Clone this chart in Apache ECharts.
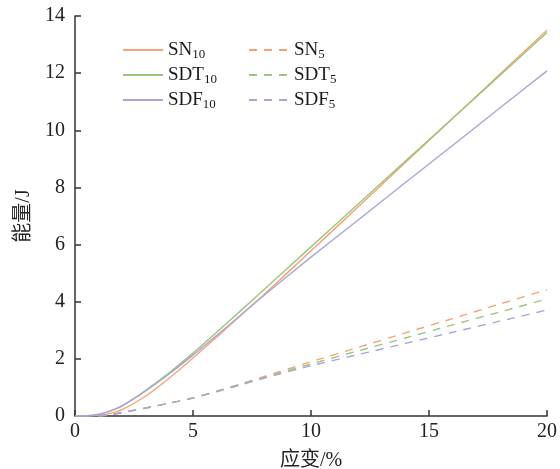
<!DOCTYPE html>
<html><head><meta charset="utf-8">
<script src="https://cdn.jsdelivr.net/npm/echarts@6/dist/echarts.min.js"></script>
<style>html,body{margin:0;padding:0;background:#fff}#c{width:560px;height:469px}</style>
</head><body><div id="c"></div>
<script>
const strain = [0, 0.5, 1, 1.5, 2, 3, 4, 5, 6, 7, 8, 10, 12, 14, 16, 18, 20];
const SN10  = [0, 0, 0.02, 0.09, 0.22, 0.7, 1.33, 2.03, 2.76, 3.5, 4.24, 5.78, 7.32, 8.87, 10.41, 11.96, 13.5];
const SDT10 = [0, 0, 0.05, 0.17, 0.35, 0.9, 1.52, 2.2, 2.93, 3.67, 4.42, 5.92, 7.42, 8.92, 10.42, 11.92, 13.42];
const SDF10 = [0, 0.01, 0.06, 0.18, 0.36, 0.88, 1.48, 2.13, 2.82, 3.52, 4.22, 5.56, 6.86, 8.17, 9.47, 10.78, 12.08];
const SN5   = [null, null, 0, 0.04, 0.12, 0.28, 0.45, 0.63, 0.87, 1.12, 1.38, 1.9, 2.4, 2.91, 3.41, 3.92, 4.42];
const SDT5  = [null, null, 0, 0.04, 0.12, 0.28, 0.45, 0.63, 0.86, 1.1, 1.35, 1.82, 2.28, 2.73, 3.19, 3.64, 4.1];
const SDF5  = [null, null, 0, 0.04, 0.12, 0.28, 0.45, 0.63, 0.85, 1.08, 1.32, 1.76, 2.15, 2.54, 2.93, 3.32, 3.71];
const names = ['SN10', 'SDT10', 'SDF10', 'SN5', 'SDT5', 'SDF5'];
const colors = ['#F4A474', '#9CC47C', '#A9A4DA'];

const serif = '"Liberation Serif", "Noto Sans CJK SC", serif';
const pair = a => strain.map((s, i) => [s, a[i]]);
const mk = (name, data, color, dashed) => ({
  name, type: 'line', data: pair(data), symbol: 'none', smooth: 0.2, connectNulls: false,
  lineStyle: { color, width: 1.4, type: dashed ? [8, 7] : 'solid' },
  itemStyle: { color }
});
const legendFmt = n => {
  const m = n.match(/^([A-Z]+)(\d+)$/);
  return '{b|' + m[1] + '}{s|' + m[2] + '}';
};
const legRich = {
  b: { fontFamily: serif, fontSize: 19, color: '#1a1a1a', lineHeight: 22 },
  s: { fontFamily: serif, fontSize: 13, color: '#1a1a1a', lineHeight: 22, verticalAlign: 'bottom', padding: [8, 0, 0, 0] }
};
const legBase = { orient: 'vertical', top: 35, itemWidth: 40, itemHeight: 10, itemGap: 4, formatter: legendFmt, textStyle: { rich: legRich }, itemStyle: { opacity: 0 } };

const chart = echarts.init(document.getElementById('c'));
chart.setOption({
  animation: false,
  grid: { left: 75, right: 13, top: 16, bottom: 53, containLabel: false, outerBoundsMode: 'none' },
  legend: [
    Object.assign({ data: names.slice(0, 3), left: 117 }, legBase),
    Object.assign({ data: names.slice(3), left: 243 }, legBase)
  ],
  xAxis: {
    type: 'value', min: 0, max: 20, interval: 5,
    name: '应变/%', nameLocation: 'middle', nameGap: 35,
    nameTextStyle: { fontFamily: serif, fontSize: 20, color: '#222' },
    axisLine: { lineStyle: { color: '#333', width: 1.5 } },
    axisTick: { inside: true, length: 6, lineStyle: { color: '#333', width: 1.5 } },
    axisLabel: { fontFamily: serif, fontSize: 20, color: '#222', margin: 6 },
    splitLine: { show: false }
  },
  yAxis: {
    type: 'value', min: 0, max: 14, interval: 2,
    name: '能量/J', nameLocation: 'middle', nameGap: 41,
    nameTextStyle: { fontFamily: serif, fontSize: 20, color: '#222' },
    axisLine: { show: true, lineStyle: { color: '#333', width: 1.5 } },
    axisTick: { show: true, inside: true, length: 6, lineStyle: { color: '#333', width: 1.5 } },
    axisLabel: { fontFamily: serif, fontSize: 20, color: '#222', margin: 10 },
    splitLine: { show: false }
  },
  series: [
    mk('SN10', SN10, colors[0], false),
    mk('SDT10', SDT10, colors[1], false),
    mk('SDF10', SDF10, colors[2], false),
    mk('SN5', SN5, colors[0], true),
    mk('SDT5', SDT5, colors[1], true),
    mk('SDF5', SDF5, colors[2], true)
  ]
});
</script></body></html>
